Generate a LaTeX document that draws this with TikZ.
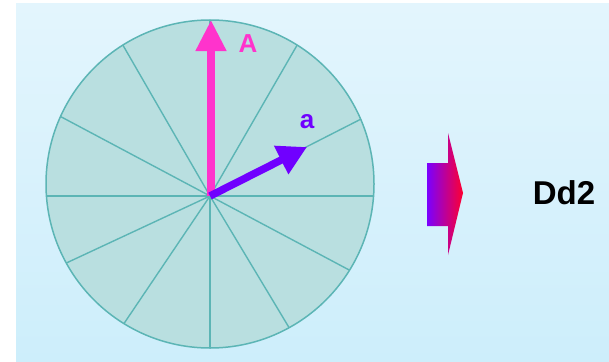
\documentclass[tikz,border=0pt]{standalone}
\usepackage{fontspec}
\setmainfont{Liberation Sans}
\usetikzlibrary{arrows.meta}
\definecolor{bgtop}{HTML}{E3F5FD}
\definecolor{bgbot}{HTML}{CDEEFB}
\definecolor{disc}{HTML}{B9DFE0}
\definecolor{rim}{HTML}{5CB5B5}
\definecolor{pinkA}{HTML}{FF33CC}
\definecolor{violeta}{HTML}{7000FF}
\definecolor{gradL}{HTML}{7A00FF}
\definecolor{gradR}{HTML}{FF0030}
\tikzset{
  spoke/.style={draw=rim, line width=1.4pt},
  bigvec/.style={line width=7.5pt, -{Triangle[length=31pt 0 0, width=29pt 0 0]}},
  lbl/.style={font=\bfseries, inner sep=0pt}
}
\begin{document}
\begin{tikzpicture}[x=1pt,y=-1pt]
\useasboundingbox (0,0) rectangle (609,361);
\fill[white] (0,0) rectangle (609,361);
\shade[top color=bgtop, bottom color=bgbot] (16,4) rectangle (609,361);
% disc
\coordinate (C) at (210,184);
\coordinate (O) at (210,196);
\fill[disc] (C) circle[radius=164];
\begin{scope}
  \clip (C) circle[radius=164];
  \foreach \ang in {0,27,60,90,120,152,180,205,236,270,301,332}
    \draw[spoke] (O) -- ++({-\ang}:400);
\end{scope}
\draw[rim, line width=1.5pt] (C) circle[radius=164];
% vectors
\coordinate (Atip) at (211,20);
\coordinate (atip) at (307,147);
\draw[bigvec, pinkA] (211,196) -- (Atip);
\draw[bigvec, violeta, -{Triangle[length=29pt 0 0, width=30pt 0 0]}] (O) -- (atip);
\node[lbl, text=pinkA, font=\bfseries\fontsize{26}{26}\selectfont] (A) at (248,44) {A};
\node[lbl, text=violeta, font=\bfseries\fontsize{26}{26}\selectfont] (a) at (307,122) {a};
% gradient arrow
\shade[left color=gradL, right color=gradR]
  (427,163) -- (448,163) -- (448,133) -- (463,193) -- (448,255) -- (448,226) -- (427,226) -- cycle;
\node[lbl, font=\bfseries\fontsize{33}{33}\selectfont] (Dd) at (564,193) {Dd2};
\end{tikzpicture}
\end{document}
